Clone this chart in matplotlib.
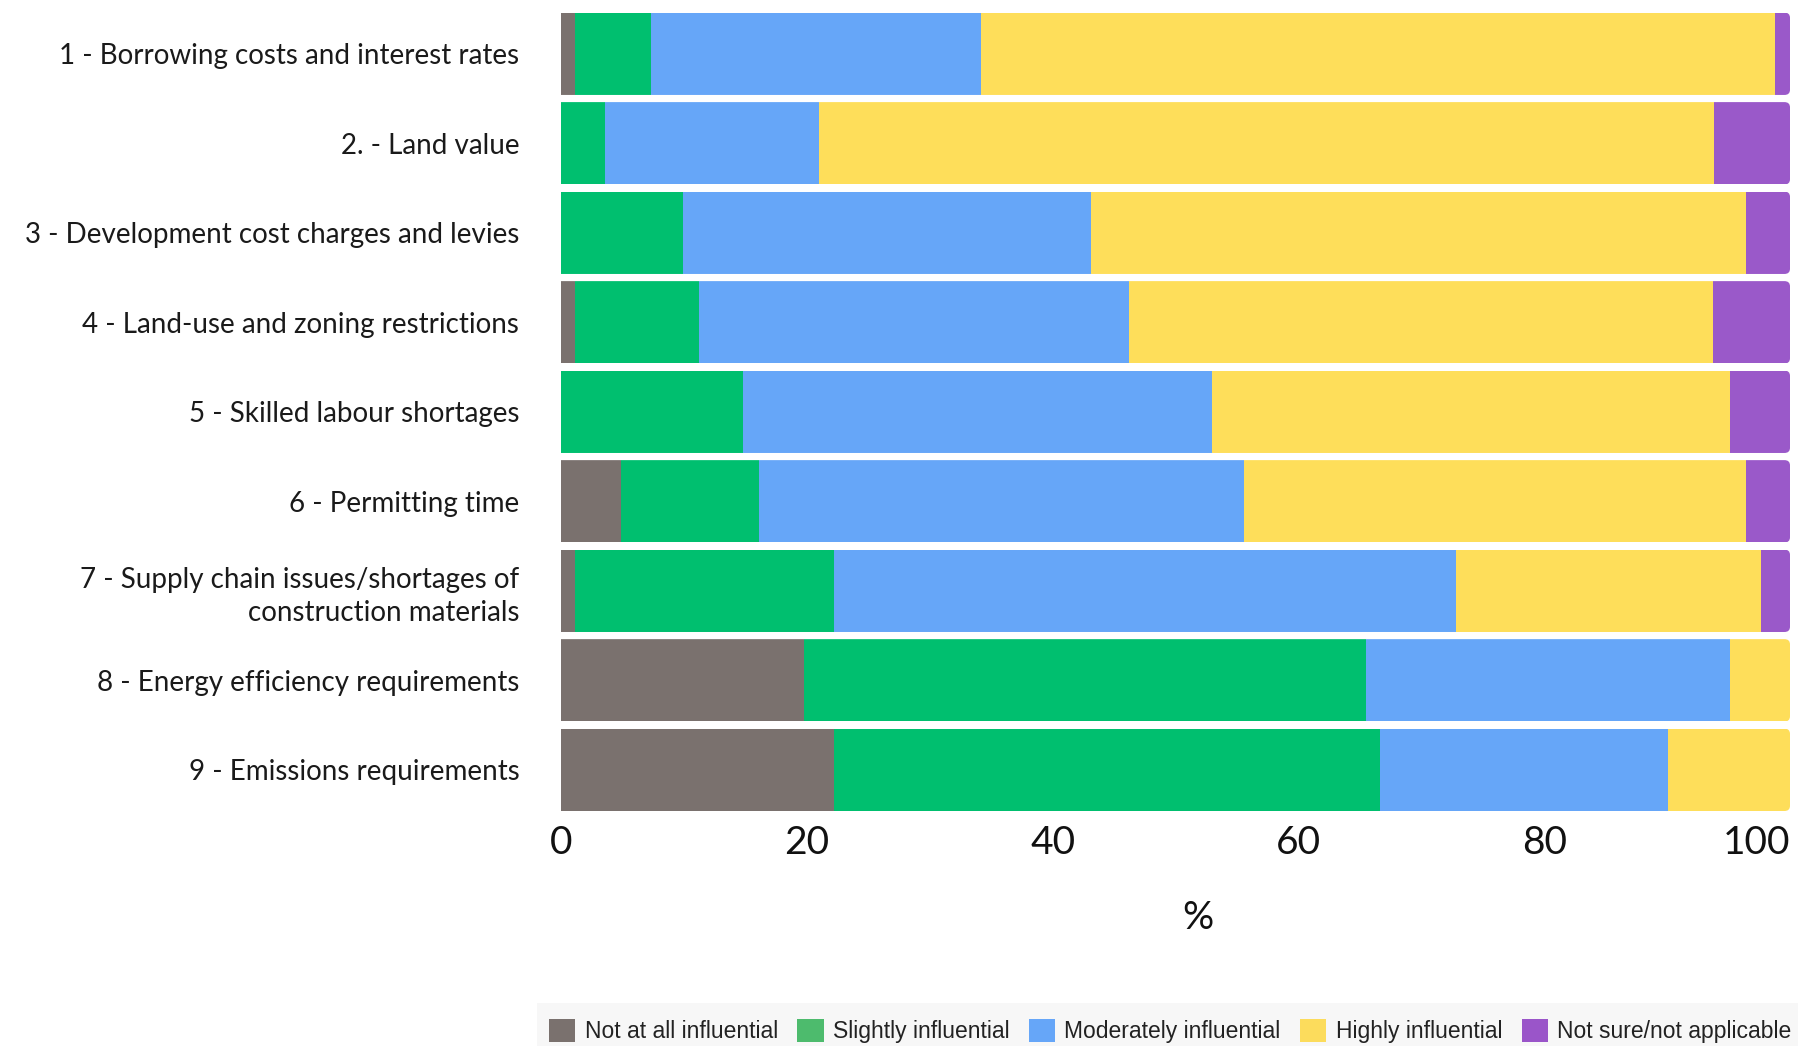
import matplotlib
matplotlib.use("Agg")
import matplotlib.pyplot as plt
from matplotlib.patches import Patch, FancyBboxPatch, Rectangle
from matplotlib import font_manager
import numpy as np

FACTORS = [
    "1 - Borrowing costs and interest rates",
    "2. - Land value",
    "3 - Development cost charges and levies",
    "4 - Land-use and zoning restrictions",
    "5 - Skilled labour shortages",
    "6 - Permitting time",
    "7 - Supply chain issues/shortages of\nconstruction materials",
    "8 - Energy efficiency requirements",
    "9 - Emissions requirements",
]
LEVELS = ["Not at all influential", "Slightly influential", "Moderately influential",
          "Highly influential", "Not sure/not applicable"]
TICKS = [0, 20, 40, 60, 80, 100]

# share of respondents (%) per factor
not_at_all = [1.1, 0.0, 0.0, 1.1, 0.0, 4.9, 1.1, 19.8, 22.2]
slightly = [6.2, 3.6, 9.9, 10.1, 14.8, 11.2, 21.1, 45.7, 44.4]
moderately = [26.9, 17.4, 33.2, 35.0, 38.2, 39.5, 50.6, 29.6, 23.5]
highly = [64.6, 72.8, 53.3, 47.5, 42.1, 40.8, 24.8, 4.9, 9.9]
not_sure = [1.2, 6.2, 3.6, 6.3, 4.9, 3.6, 2.4, 0.0, 0.0]

BAR_COLORS = ["#7a716e", "#00bf6f", "#66a6f8", "#fede5a", "#9a59c9"]
KEY_COLORS = ["#7a716e", "#4dbb6d", "#66a6f8", "#fcdc5c", "#9a55c9"]

names = {f.name for f in font_manager.fontManager.ttflist}
label_font = "Lato" if "Lato" in names else "DejaVu Sans"
key_font = "Liberation Sans Narrow" if "Liberation Sans Narrow" in names else "Liberation Sans"

fig = plt.figure(figsize=(17.99, 10.46), dpi=100)
ax = fig.add_axes([561 / 1799, 1 - 811 / 1046, 1229 / 1799, (811 - 12.6) / 1046])

series = [not_at_all, slightly, moderately, highly, not_sure]
y = np.arange(len(FACTORS))
h = 0.92
left = np.zeros(len(FACTORS))
containers = []
for vals, col in zip(series, BAR_COLORS):
    bc = ax.barh(y, vals, left=left, height=h, color=col, linewidth=0)
    containers.append(bc)
    left += np.array(vals)

# round the right end of every bar
for i in range(len(FACTORS)):
    clip = FancyBboxPatch((-3, i - h / 2), 103, h,
                          boxstyle="round,pad=0,rounding_size=0.45",
                          mutation_aspect=0.13, transform=ax.transData)
    for bc in containers:
        bc[i].set_clip_path(clip)

ax.set_xlim(0, 100)
ax.set_ylim(len(FACTORS) - 1 + h / 2, -h / 2)
ax.set_yticks(y)
ax.set_yticklabels(FACTORS, fontsize=20, family=label_font,
                   color="#1a1a1a", linespacing=1.3)
ax.set_xticks(TICKS)
ax.set_xticklabels([str(t) for t in TICKS], fontsize=28, family=label_font,
                   color="#111111")
ax.get_xticklabels()[-1].set_horizontalalignment("right")
ax.tick_params(axis="both", length=0)
ax.tick_params(axis="y", pad=30)
ax.tick_params(axis="x", pad=10)
ax.set_xlabel("%", fontsize=28, family=label_font, color="#111111")
ax.xaxis.set_label_coords(0.518, -0.112)
for s in ax.spines.values():
    s.set_visible(False)

# legend strip along the bottom
fig.patches.append(Rectangle((537 / 1799, 0), 1, 43 / 1046, transform=fig.transFigure,
                             facecolor="#f7f7f7", edgecolor="none", zorder=0))
handles = [Patch(facecolor=c, edgecolor="none") for c in KEY_COLORS]
fig.legend(handles, LEVELS, loc="center left", bbox_to_anchor=(549 / 1799, 15 / 1046),
           ncol=5, frameon=False, prop={"family": key_font, "size": 16.5},
           handlelength=1.15, handleheight=1.2, handletextpad=0.4,
           columnspacing=0.85, borderpad=0, borderaxespad=0, labelcolor="#222222")

fig.savefig("out.png", dpi=100)
